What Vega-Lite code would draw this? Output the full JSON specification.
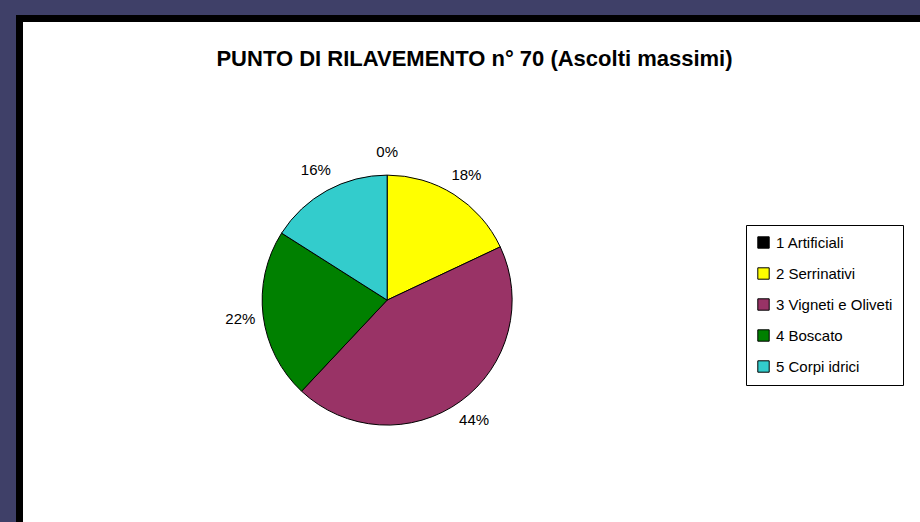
{
  "$schema": "https://vega.github.io/schema/vega-lite/v6.json",
  "width": 910,
  "height": 512,
  "autosize": {"type": "none"},
  "padding": {"left": 19.5, "top": 18.5, "right": -9.5, "bottom": -8.5},
  "background": "#3f4068",
  "config": {
    "view": {"fill": "white", "stroke": "black", "strokeWidth": 7},
    "font": "Liberation Sans",
    "legend": {
      "strokeColor": "black",
      "fillColor": "white",
      "padding": 10,
      "labelFont": "Liberation Sans",
      "labelFontSize": 15,
      "labelColor": "black",
      "symbolType": "square",
      "symbolSize": 130,
      "symbolStrokeColor": "black",
      "symbolStrokeWidth": 1,
      "symbolOpacity": 1,
      "rowPadding": 14,
      "labelOffset": 5
    }
  },
  "title": {
    "text": "PUNTO DI RILAVEMENTO n° 70 (Ascolti massimi)",
    "font": "Liberation Sans",
    "fontSize": 22,
    "fontWeight": "bold",
    "color": "black",
    "anchor": "middle",
    "frame": "group",
    "offset": -52
  },
  "data": {
    "values": [
      {"idx": 1, "categoria": "1 Artificiali", "valore": 0, "etichetta": "0%"},
      {"idx": 2, "categoria": "2 Serrinativi", "valore": 18, "etichetta": "18%"},
      {"idx": 3, "categoria": "3 Vigneti e Oliveti", "valore": 44, "etichetta": "44%"},
      {"idx": 4, "categoria": "4 Boscato", "valore": 22, "etichetta": "22%"},
      {"idx": 5, "categoria": "5 Corpi idrici", "valore": 16, "etichetta": "16%"}
    ]
  },
  "encoding": {
    "theta": {"field": "valore", "type": "quantitative", "stack": true},
    "order": {"field": "idx", "type": "quantitative"},
    "x": {"datum": 0.404, "type": "quantitative", "scale": {"domain": [0, 1]}, "axis": null},
    "y": {"datum": 0.45, "type": "quantitative", "scale": {"domain": [0, 1]}, "axis": null}
  },
  "layer": [
    {
      "mark": {"type": "arc", "outerRadius": 125, "stroke": "black", "strokeWidth": 1},
      "encoding": {
        "color": {
          "field": "categoria",
          "type": "nominal",
          "scale": {
            "domain": ["1 Artificiali", "2 Serrinativi", "3 Vigneti e Oliveti", "4 Boscato", "5 Corpi idrici"],
            "range": ["#000000", "#ffff00", "#993366", "#008000", "#33cccc"]
          },
          "legend": {"title": null, "orient": "none", "legendX": 726.5, "legendY": 206.5}
        }
      }
    },
    {
      "mark": {"type": "text", "radius": 148, "font": "Liberation Sans", "fontSize": 15, "color": "black"},
      "encoding": {"text": {"field": "etichetta"}}
    }
  ]
}
